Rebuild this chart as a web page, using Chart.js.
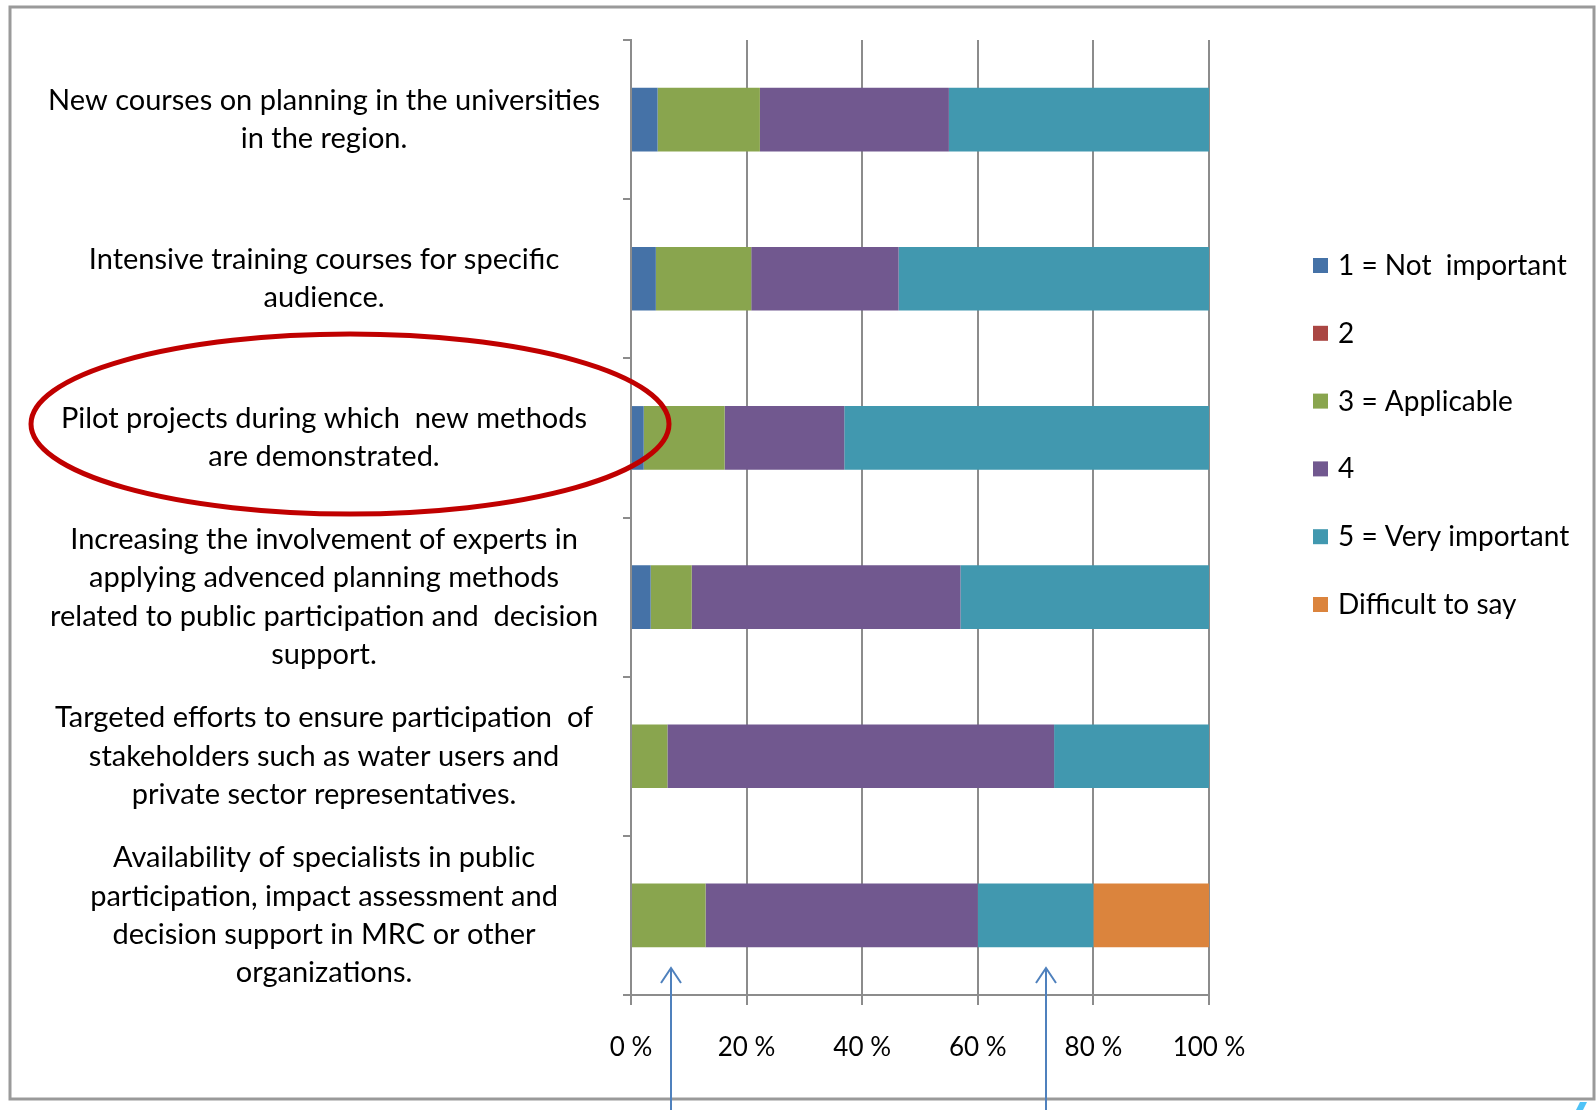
<!DOCTYPE html>
<html>
<head>
<meta charset="utf-8">
<script src="https://cdn.jsdelivr.net/npm/chart.js@4"></script>
<style>
  html, body { margin: 0; padding: 0; background: #fff; }
  #wrap { width: 1596px; height: 1110px; position: relative; }
</style>
</head>
<body>
<div id="wrap"><canvas id="barChart" width="1596" height="1110"></canvas></div>
<script>
// categories (top to bottom)
const categories = [
    ['New courses on planning in the universities', 'in the region.'],
    ['Intensive training courses for specific', 'audience.'],
    ['Pilot projects during which  new methods', 'are demonstrated.'],
    ['Increasing the involvement of experts in', 'applying advenced planning methods', 'related to public participation and  decision', 'support.'],
    ['Targeted efforts to ensure participation  of', 'stakeholders such as water users and', 'private sector representatives.'],
    ['Availability of specialists in public', 'participation, impact assessment and', 'decision support in MRC or other', 'organizations.']
];

// series values, % of answers
const notImportant   = [4.6, 4.3, 2.2, 3.4, 0, 0];
const two            = [0, 0, 0, 0, 0, 0];
const applicable     = [17.7, 16.5, 14.0, 7.1, 6.3, 12.9];
const four           = [32.7, 25.5, 20.7, 46.5, 66.9, 47.1];
const veryImportant  = [45.0, 53.7, 63.1, 43.0, 26.8, 20.0];
const difficultToSay = [0, 0, 0, 0, 0, 20.0];

const seriesNames = ['1 = Not  important', '2', '3 = Applicable', '4', '5 = Very important', 'Difficult to say'];
const seriesColors = ['#4572A7', '#AA4643', '#89A54E', '#71588F', '#4198AF', '#DB843D'];

// x axis tick values
const xTicks = [0, 20, 40, 60, 80, 100];

const FONT = 'Lato';
const gridColor = '#8c8c8c';

// frame, red ellipse, arrows and legend drawn on top
const decorations = {
    id: 'decorations',
    beforeDraw(chart) {
        const ctx = chart.ctx;
        ctx.save();
        ctx.fillStyle = '#fff';
        ctx.fillRect(0, 0, chart.width, chart.height);
        ctx.strokeStyle = '#9a9a9a';
        ctx.lineWidth = 3;
        ctx.strokeRect(10, 7, 1584, 1092);
        ctx.restore();
    },
    afterDraw(chart) {
        const ctx = chart.ctx;
        ctx.save();
        // legend
        ctx.font = '28px ' + FONT;
        ctx.textBaseline = 'middle';
        ctx.textAlign = 'left';
        chart.data.datasets.forEach((ds, i) => {
            const y = 266 + i * 67.8;
            ctx.fillStyle = ds.backgroundColor;
            ctx.fillRect(1313, y - 8, 15, 15);
            ctx.fillStyle = '#000';
            ctx.fillText(ds.label, 1338, y);
        });
        // red ellipse around the pilot projects label
        ctx.strokeStyle = '#C00000';
        ctx.lineWidth = 5;
        ctx.beginPath();
        ctx.ellipse(350, 424, 319, 90, 0, 0, Math.PI * 2);
        ctx.stroke();
        // blue arrows
        ctx.strokeStyle = '#4F81BD';
        ctx.lineWidth = 2;
        [671, 1046].forEach(x => {
            ctx.beginPath();
            ctx.moveTo(x, 1110);
            ctx.lineTo(x, 968);
            ctx.moveTo(x - 10, 983);
            ctx.lineTo(x, 968);
            ctx.lineTo(x + 10, 983);
            ctx.stroke();
        });
        // small shape peeking at the bottom right
        ctx.fillStyle = '#4FC3F7';
        ctx.beginPath();
        ctx.moveTo(1576, 1110);
        ctx.lineTo(1580, 1102);
        ctx.lineTo(1587, 1102);
        ctx.lineTo(1583, 1110);
        ctx.closePath();
        ctx.fill();
        ctx.restore();
    }
};

const seriesData = [notImportant, two, applicable, four, veryImportant, difficultToSay];

new Chart(document.getElementById('barChart').getContext('2d'), {
    type: 'bar',
    data: {
        labels: categories,
        datasets: seriesData.map((d, i) => ({
            label: seriesNames[i],
            data: d,
            backgroundColor: seriesColors[i],
            borderWidth: 0,
            barPercentage: 0.4,
            categoryPercentage: 1.0
        }))
    },
    options: {
        indexAxis: 'y',
        responsive: false,
        animation: false,
        layout: { padding: { top: 40, left: 0, right: 387, bottom: 0 } },
        plugins: {
            legend: { display: false },
            tooltip: { enabled: false }
        },
        scales: {
            x: {
                stacked: true,
                min: 0,
                max: 100,
                afterBuildTicks: scale => { scale.ticks = xTicks.map(v => ({ value: v })); },
                afterFit: scale => {
                    scale.height = 115;
                    scale.paddingLeft = 0;
                    scale.paddingRight = 0;
                },
                grid: { color: gridColor, lineWidth: 2, tickLength: 10 },
                border: { color: gridColor, width: 2 },
                ticks: {
                    padding: 27,
                    color: '#000',
                    font: { family: FONT, size: 26 },
                    callback: v => v + ' %'
                }
            },
            y: {
                stacked: true,
                afterFit: scale => {
                    scale.width = 631;
                    scale.paddingTop = 0;
                    scale.paddingBottom = 0;
                },
                grid: { offset: true, drawOnChartArea: false, color: gridColor, lineWidth: 2, tickLength: 8 },
                border: { color: gridColor, width: 2 },
                ticks: {
                    autoSkip: false,
                    crossAlign: 'center',
                    padding: 23,
                    color: '#000',
                    font: { family: FONT, size: 29, lineHeight: 1.32 }
                }
            }
        }
    },
    plugins: [decorations]
});
</script>
</body>
</html>
